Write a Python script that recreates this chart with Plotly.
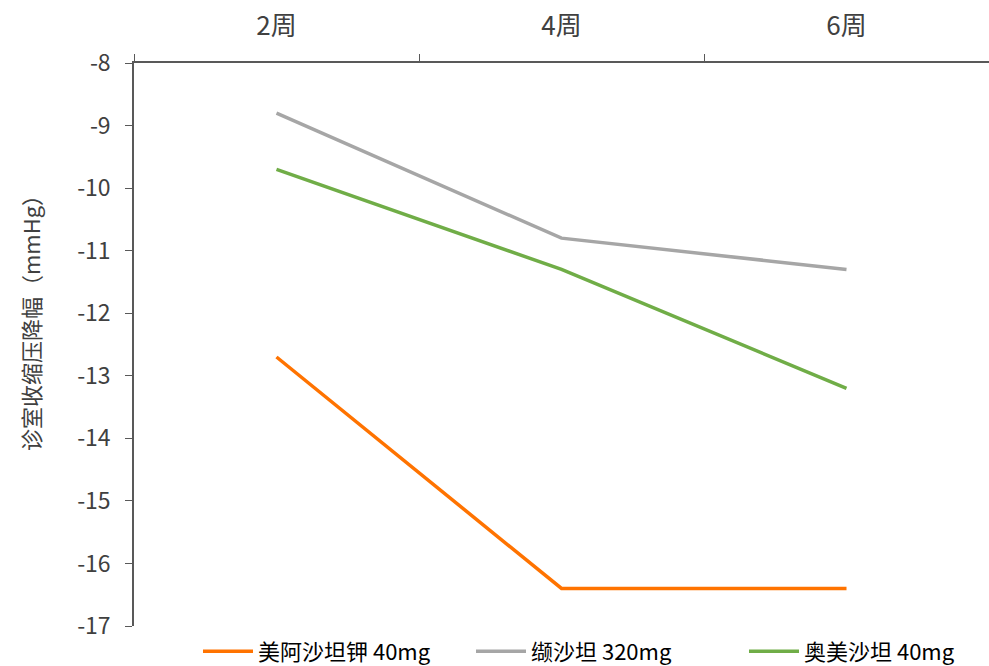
import plotly.graph_objects as go

weeks = ["2周", "4周", "6周"]
series_names = ["美阿沙坦钾 40mg", "缬沙坦 320mg", "奥美沙坦 40mg"]
azilsartan = [-12.7, -16.4, -16.4]
valsartan = [-8.8, -10.8, -11.3]
olmesartan = [-9.7, -11.3, -13.2]
colors = ["#FF7300", "#A6A6A6", "#70AD47"]
y_ticks = [-8, -9, -10, -11, -12, -13, -14, -15, -16, -17]
y_title = "诊室收缩压降幅（mmHg）"

font_family = "Noto Sans CJK SC"
text_color = "#404040"

fig = go.Figure()
for name, vals, col in zip(series_names, [azilsartan, valsartan, olmesartan], colors):
    fig.add_trace(go.Scatter(
        x=weeks, y=vals, name=name, mode="lines",
        line=dict(color=col, width=3.5),
    ))

fig.update_layout(
    width=989, height=666,
    margin=dict(l=134, r=0, t=63, b=40, autoexpand=False),
    paper_bgcolor="white", plot_bgcolor="white",
    font=dict(family=font_family, color=text_color, size=20),
    showlegend=True,
    legend=dict(
        orientation="h", xref="container", x=0.2002, xanchor="left",
        yref="container", y=0.022, yanchor="middle",
        font=dict(size=22, color="#000000"),
        entrywidth=208, itemwidth=50, tracegroupgap=0,
        bgcolor="rgba(0,0,0,0)",
    ),
    xaxis=dict(
        side="top", type="category", range=[-0.5, 2.5],
        showline=True, linecolor="#595959", linewidth=1.5,
        ticks="outside", tickson="boundaries", ticklen=7, tickcolor="#595959",
        tickfont=dict(size=26, color=text_color), ticklabelstandoff=16,
        showgrid=False, zeroline=False,
    ),
    yaxis=dict(
        range=[-17, -8], tickvals=y_ticks, ticktext=[str(v) for v in y_ticks],
        showline=True, linecolor="#595959", linewidth=1.5,
        ticks="outside", ticklen=7, tickcolor="#595959",
        tickfont=dict(size=23, color=text_color), ticklabelstandoff=10,
        showgrid=False, zeroline=False,
    ),
    annotations=[dict(
        text=y_title, textangle=-90, showarrow=False,
        xref="paper", yref="paper", x=-0.1216, y=0.547,
        xanchor="center", yanchor="middle",
        font=dict(size=22, color=text_color),
    )],
)

fig.write_html("out.html")
